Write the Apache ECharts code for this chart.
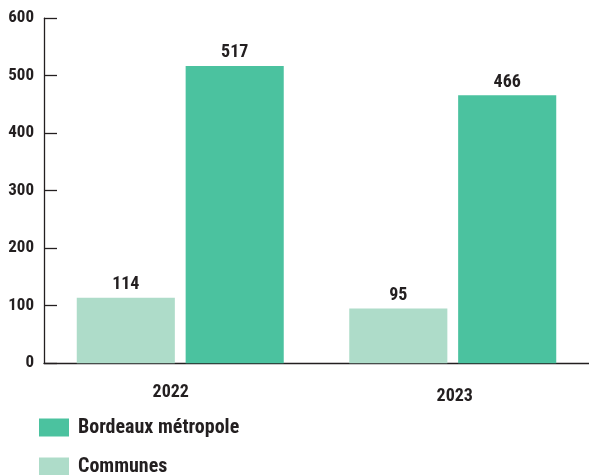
<!DOCTYPE html>
<html>
<head>
<meta charset="utf-8">
<script src="https://cdn.jsdelivr.net/npm/echarts@6/dist/echarts.min.js"></script>
<style>
  html, body { margin: 0; padding: 0; background: #ffffff; }
  #chart { width: 589px; height: 475px; }
</style>
</head>
<body>
<div id="chart"></div>
<script>
// Yearly totals per group
const years = ['2022', '2023'];
const communes = [114, 95];
const bordeauxMetropole = [517, 466];
const yTicks = [0, 100, 200, 300, 400, 500, 600];

const FONT = '"Roboto Condensed", sans-serif';
const INK = '#231f20';
const GREEN = '#4bc29f';
const PALE = '#aedcc9';

const chart = echarts.init(document.getElementById('chart'), null, { renderer: 'canvas' });

const legendText = { fontFamily: FONT, fontWeight: 'bold', fontSize: 20, color: INK, padding: [4, 0, 0, 4] };

chart.setOption({
  animation: false,
  backgroundColor: '#ffffff',
  textStyle: { fontFamily: FONT },
  grid: { left: 44, top: 18.2, width: 547, height: 345, containLabel: false },
  legend: [
    {
      left: 39, top: 417.5,
      itemWidth: 30, itemHeight: 18, icon: 'rect',
      padding: 0,
      data: ['Bordeaux métropole'],
      textStyle: legendText
    },
    {
      left: 39, top: 456.5,
      itemWidth: 30, itemHeight: 18, icon: 'rect',
      padding: 0,
      data: ['Communes'],
      textStyle: legendText
    }
  ],
  xAxis: {
    type: 'category',
    data: years,
    boundaryGap: true,
    axisLine: { lineStyle: { color: INK, width: 1.3 } },
    axisTick: { inside: true, length: 8, lineStyle: { color: INK, width: 1.3 } },
    axisLabel: {
      margin: 20,
      fontFamily: FONT,
      fontWeight: 'bold',
      fontSize: 18,
      color: INK,
      formatter: function (v) { return v === years[0] ? '{a|' + v + '}' : '{b|' + v + '}'; },
      rich: {
        a: { fontFamily: FONT, fontWeight: 'bold', fontSize: 18, color: INK, padding: [0, 19, 0, 0] },
        b: { fontFamily: FONT, fontWeight: 'bold', fontSize: 18, color: INK, padding: [4, 0, 0, 4] }
      }
    }
  },
  yAxis: {
    type: 'value',
    min: yTicks[0],
    max: yTicks[yTicks.length - 1],
    interval: 100,
    splitLine: { show: false },
    axisLine: { show: true, lineStyle: { color: INK, width: 1.3 } },
    axisTick: { show: true, inside: true, length: 13, lineStyle: { color: INK, width: 1.3 } },
    axisLabel: {
      margin: 10,
      fontFamily: FONT,
      fontWeight: 'bold',
      fontSize: 17,
      color: INK
    }
  },
  series: [
    {
      name: 'Communes',
      type: 'bar',
      data: communes,
      barWidth: '36%',
      barGap: '11%',
      itemStyle: { color: PALE },
      label: {
        show: true, position: 'top', distance: 4,
        fontFamily: FONT, fontWeight: 'bold', fontSize: 18, color: INK
      }
    },
    {
      name: 'Bordeaux métropole',
      type: 'bar',
      data: bordeauxMetropole,
      barWidth: '36%',
      barGap: '11%',
      itemStyle: { color: GREEN },
      label: {
        show: true, position: 'top', distance: 4,
        fontFamily: FONT, fontWeight: 'bold', fontSize: 18, color: INK
      }
    }
  ]
});
</script>
</body>
</html>
